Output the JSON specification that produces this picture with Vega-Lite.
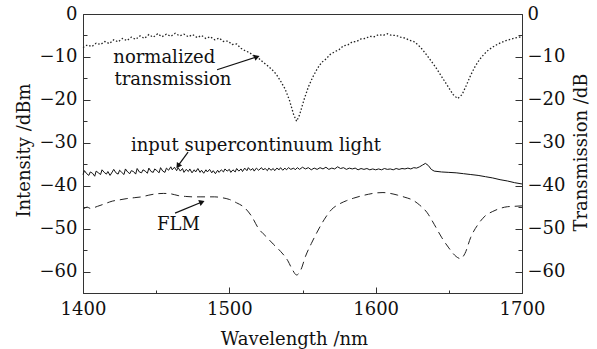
{
  "$schema": "https://vega.github.io/schema/vega-lite/v6.json",
  "width": 439,
  "height": 279,
  "autosize": {"type": "none"},
  "padding": {"left": 83, "top": 14, "right": 75, "bottom": 56},
  "background": "white",
  "config": {
    "view": {"stroke": "#333", "strokeWidth": 1},
    "font": "DejaVu Serif",
    "axis": {
      "grid": false,
      "domainColor": "#333",
      "tickColor": "#333",
      "labelColor": "#111",
      "titleColor": "#111",
      "labelFont": "DejaVu Serif",
      "titleFont": "DejaVu Serif",
      "labelFontSize": 18,
      "titleFontSize": 18,
      "titleFontWeight": "normal",
      "labelOverlap": false,
      "labelFlush": false
    }
  },
  "datasets": {
    "transmission": [
      {"wl":1400,"v":-7.8},{"wl":1403,"v":-7.2},{"wl":1406,"v":-7.6},{"wl":1409,"v":-6.8},{"wl":1412,"v":-7.1},
      {"wl":1415,"v":-6.4},{"wl":1418,"v":-6.9},{"wl":1421,"v":-6.0},{"wl":1424,"v":-6.5},{"wl":1427,"v":-5.7},
      {"wl":1430,"v":-6.2},{"wl":1433,"v":-5.4},{"wl":1436,"v":-5.9},{"wl":1439,"v":-5.1},{"wl":1442,"v":-5.7},
      {"wl":1445,"v":-4.8},{"wl":1448,"v":-5.4},{"wl":1451,"v":-4.6},{"wl":1454,"v":-5.3},{"wl":1457,"v":-4.7},
      {"wl":1460,"v":-5.2},{"wl":1463,"v":-4.5},{"wl":1466,"v":-5.1},{"wl":1469,"v":-4.7},{"wl":1472,"v":-5.3},
      {"wl":1475,"v":-4.8},{"wl":1478,"v":-5.5},{"wl":1481,"v":-5.0},{"wl":1484,"v":-5.7},{"wl":1487,"v":-5.3},
      {"wl":1490,"v":-6.0},{"wl":1493,"v":-5.6},{"wl":1496,"v":-6.4},{"wl":1499,"v":-6.3},{"wl":1502,"v":-7.1},
      {"wl":1505,"v":-7.0},{"wl":1508,"v":-8.0},{"wl":1511,"v":-8.6},{"wl":1514,"v":-9.0},{"wl":1517,"v":-9.9},
      {"wl":1520,"v":-10.3},{"wl":1523,"v":-11.2},{"wl":1526,"v":-12.0},{"wl":1529,"v":-12.9},{"wl":1532,"v":-14.0},
      {"wl":1535,"v":-15.6},{"wl":1538,"v":-17.4},{"wl":1541,"v":-20.0},{"wl":1544,"v":-23.5},{"wl":1546,"v":-25.0},
      {"wl":1548,"v":-23.5},{"wl":1551,"v":-20.0},{"wl":1554,"v":-17.0},{"wl":1557,"v":-14.7},{"wl":1560,"v":-12.8},
      {"wl":1563,"v":-11.3},{"wl":1566,"v":-10.5},{"wl":1569,"v":-9.4},{"wl":1572,"v":-8.8},{"wl":1575,"v":-8.3},
      {"wl":1578,"v":-7.4},{"wl":1581,"v":-7.2},{"wl":1584,"v":-6.5},{"wl":1587,"v":-6.4},{"wl":1590,"v":-5.8},
      {"wl":1593,"v":-5.7},{"wl":1596,"v":-5.2},{"wl":1599,"v":-5.3},{"wl":1602,"v":-4.8},{"wl":1605,"v":-5.0},
      {"wl":1608,"v":-4.6},{"wl":1611,"v":-5.0},{"wl":1614,"v":-5.0},{"wl":1617,"v":-5.4},{"wl":1620,"v":-5.6},
      {"wl":1623,"v":-6.1},{"wl":1626,"v":-6.4},{"wl":1629,"v":-7.2},{"wl":1632,"v":-8.3},{"wl":1635,"v":-9.6},
      {"wl":1638,"v":-11.0},{"wl":1641,"v":-12.4},{"wl":1644,"v":-14.0},{"wl":1647,"v":-15.6},{"wl":1650,"v":-17.2},
      {"wl":1653,"v":-18.8},{"wl":1656,"v":-19.7},{"wl":1659,"v":-18.8},{"wl":1662,"v":-16.6},{"wl":1665,"v":-14.2},
      {"wl":1668,"v":-12.2},{"wl":1671,"v":-10.6},{"wl":1674,"v":-9.4},{"wl":1677,"v":-8.4},{"wl":1680,"v":-7.7},
      {"wl":1683,"v":-7.1},{"wl":1686,"v":-6.6},{"wl":1689,"v":-6.2},{"wl":1692,"v":-5.9},{"wl":1695,"v":-5.6},
      {"wl":1698,"v":-5.4},{"wl":1700,"v":-5.3}
    ],
    "supercontinuum": [
      {"wl":1400,"v":-37.4},{"wl":1401,"v":-36.5},{"wl":1402.5,"v":-37.2},{"wl":1404,"v":-37.6},{"wl":1405,"v":-36.8},
      {"wl":1406.5,"v":-37.1},{"wl":1408,"v":-37.8},{"wl":1409,"v":-36.6},{"wl":1410.5,"v":-37.0},{"wl":1412,"v":-37.4},
      {"wl":1413,"v":-36.3},{"wl":1414.5,"v":-36.9},{"wl":1416,"v":-37.3},{"wl":1417,"v":-36.7},{"wl":1418.5,"v":-37.6},
      {"wl":1420,"v":-36.8},{"wl":1421,"v":-36.2},{"wl":1422.5,"v":-37.0},{"wl":1424,"v":-37.3},{"wl":1425,"v":-36.4},
      {"wl":1426.5,"v":-36.9},{"wl":1428,"v":-37.4},{"wl":1429,"v":-36.1},{"wl":1430.5,"v":-36.8},{"wl":1432,"v":-37.2},
      {"wl":1433,"v":-36.5},{"wl":1434.5,"v":-36.7},{"wl":1436,"v":-37.3},{"wl":1437,"v":-36.0},{"wl":1438.5,"v":-36.8},
      {"wl":1440,"v":-37.0},{"wl":1441,"v":-36.3},{"wl":1442.5,"v":-36.6},{"wl":1444,"v":-37.1},{"wl":1445,"v":-35.9},
      {"wl":1446.5,"v":-36.7},{"wl":1448,"v":-36.9},{"wl":1449,"v":-36.1},{"wl":1450.5,"v":-36.5},{"wl":1452,"v":-37.0},
      {"wl":1453,"v":-35.8},{"wl":1454.5,"v":-36.6},{"wl":1456,"v":-36.9},{"wl":1457,"v":-35.9},{"wl":1458.5,"v":-36.4},
      {"wl":1460,"v":-35.6},{"wl":1461,"v":-36.3},{"wl":1462.5,"v":-35.7},{"wl":1464,"v":-36.5},{"wl":1465,"v":-35.8},
      {"wl":1466.5,"v":-36.6},{"wl":1468,"v":-36.0},{"wl":1469,"v":-36.9},{"wl":1470.5,"v":-36.2},{"wl":1472,"v":-36.7},
      {"wl":1473,"v":-36.1},{"wl":1474.5,"v":-37.0},{"wl":1476,"v":-36.3},{"wl":1477,"v":-36.8},{"wl":1478.5,"v":-36.0},
      {"wl":1480,"v":-36.9},{"wl":1481,"v":-36.4},{"wl":1482.5,"v":-37.1},{"wl":1484,"v":-36.3},{"wl":1485,"v":-36.8},
      {"wl":1486.5,"v":-36.2},{"wl":1488,"v":-37.0},{"wl":1489,"v":-36.5},{"wl":1490.5,"v":-37.2},{"wl":1492,"v":-36.4},
      {"wl":1493,"v":-36.9},{"wl":1494.5,"v":-36.3},{"wl":1496,"v":-36.8},{"wl":1497,"v":-36.1},{"wl":1498.5,"v":-36.6},
      {"wl":1500,"v":-36.2},{"wl":1501,"v":-36.9},{"wl":1502.5,"v":-36.3},{"wl":1504,"v":-36.8},{"wl":1505,"v":-36.0},
      {"wl":1506.5,"v":-36.6},{"wl":1508,"v":-36.1},{"wl":1509,"v":-36.7},{"wl":1510.5,"v":-35.9},{"wl":1512,"v":-36.5},
      {"wl":1513,"v":-35.8},{"wl":1514.5,"v":-36.4},{"wl":1516,"v":-36.0},{"wl":1517,"v":-36.6},{"wl":1518.5,"v":-35.9},
      {"wl":1520,"v":-36.4},{"wl":1522,"v":-35.8},{"wl":1523,"v":-36.3},{"wl":1524.5,"v":-36.0},{"wl":1526,"v":-36.5},
      {"wl":1527,"v":-35.9},{"wl":1528.5,"v":-36.4},{"wl":1530,"v":-36.0},{"wl":1531,"v":-36.5},{"wl":1532.5,"v":-35.9},
      {"wl":1534,"v":-36.3},{"wl":1535,"v":-35.8},{"wl":1536.5,"v":-36.4},{"wl":1538,"v":-35.9},{"wl":1539,"v":-36.3},
      {"wl":1540.5,"v":-35.8},{"wl":1542,"v":-36.2},{"wl":1544,"v":-35.9},{"wl":1545,"v":-36.3},{"wl":1546.5,"v":-35.8},
      {"wl":1548,"v":-36.2},{"wl":1550,"v":-35.7},{"wl":1552,"v":-36.1},{"wl":1554,"v":-35.8},{"wl":1556,"v":-36.3},
      {"wl":1558,"v":-35.9},{"wl":1560,"v":-36.2},{"wl":1562,"v":-35.8},{"wl":1564,"v":-36.1},{"wl":1566,"v":-35.7},
      {"wl":1568,"v":-36.2},{"wl":1570,"v":-35.9},{"wl":1572,"v":-36.1},{"wl":1574,"v":-35.6},{"wl":1576,"v":-36.0},
      {"wl":1578,"v":-35.8},{"wl":1580,"v":-36.2},{"wl":1582,"v":-35.9},{"wl":1584,"v":-36.1},{"wl":1586,"v":-35.9},
      {"wl":1588,"v":-36.3},{"wl":1590,"v":-36.0},{"wl":1592,"v":-36.2},{"wl":1594,"v":-36.0},{"wl":1596,"v":-36.3},
      {"wl":1598,"v":-36.1},{"wl":1600,"v":-36.3},{"wl":1602,"v":-36.1},{"wl":1604,"v":-36.3},{"wl":1606,"v":-36.0},
      {"wl":1608,"v":-36.2},{"wl":1610,"v":-36.1},{"wl":1612,"v":-36.3},{"wl":1614,"v":-36.0},{"wl":1616,"v":-36.2},
      {"wl":1618,"v":-36.0},{"wl":1620,"v":-36.1},{"wl":1622,"v":-35.9},{"wl":1624,"v":-36.1},{"wl":1626,"v":-35.8},
      {"wl":1628,"v":-35.9},{"wl":1630,"v":-35.6},{"wl":1632,"v":-35.2},{"wl":1634,"v":-34.8},{"wl":1636,"v":-35.3},
      {"wl":1638,"v":-36.2},{"wl":1640,"v":-36.6},{"wl":1645,"v":-36.8},{"wl":1650,"v":-36.9},{"wl":1655,"v":-37.0},
      {"wl":1660,"v":-37.2},{"wl":1665,"v":-37.4},{"wl":1670,"v":-37.6},{"wl":1675,"v":-37.9},{"wl":1680,"v":-38.2},
      {"wl":1685,"v":-38.6},{"wl":1690,"v":-38.9},{"wl":1695,"v":-39.3},{"wl":1700,"v":-39.6}
    ],
    "flm": [
      {"wl":1400,"v":-45.5},{"wl":1403,"v":-45.0},{"wl":1405,"v":-45.3},{"wl":1410,"v":-44.8},{"wl":1415,"v":-44.2},
      {"wl":1420,"v":-43.6},{"wl":1425,"v":-43.3},{"wl":1430,"v":-43.0},{"wl":1435,"v":-42.8},{"wl":1440,"v":-42.6},
      {"wl":1445,"v":-42.2},{"wl":1450,"v":-41.9},{"wl":1455,"v":-41.8},{"wl":1460,"v":-41.9},{"wl":1465,"v":-42.3},
      {"wl":1470,"v":-42.5},{"wl":1475,"v":-42.6},{"wl":1480,"v":-42.6},{"wl":1485,"v":-42.6},{"wl":1490,"v":-42.6},
      {"wl":1495,"v":-42.8},{"wl":1500,"v":-43.2},{"wl":1505,"v":-44.0},{"wl":1510,"v":-45.0},{"wl":1515,"v":-47.0},
      {"wl":1520,"v":-50.0},{"wl":1525,"v":-51.8},{"wl":1530,"v":-53.6},{"wl":1535,"v":-55.3},{"wl":1540,"v":-57.5},
      {"wl":1543,"v":-59.5},{"wl":1546,"v":-60.8},{"wl":1549,"v":-59.5},{"wl":1552,"v":-56.5},{"wl":1556,"v":-53.5},
      {"wl":1560,"v":-50.8},{"wl":1565,"v":-47.8},{"wl":1570,"v":-45.5},{"wl":1575,"v":-44.3},{"wl":1580,"v":-43.5},
      {"wl":1585,"v":-42.9},{"wl":1590,"v":-42.4},{"wl":1595,"v":-42.0},{"wl":1600,"v":-41.7},{"wl":1605,"v":-41.6},
      {"wl":1610,"v":-41.8},{"wl":1615,"v":-42.2},{"wl":1620,"v":-42.7},{"wl":1625,"v":-43.3},{"wl":1630,"v":-44.5},
      {"wl":1635,"v":-46.2},{"wl":1640,"v":-49.0},{"wl":1645,"v":-52.0},{"wl":1650,"v":-54.5},{"wl":1655,"v":-56.5},
      {"wl":1658,"v":-57.0},{"wl":1661,"v":-55.8},{"wl":1665,"v":-52.0},{"wl":1670,"v":-49.0},{"wl":1675,"v":-47.0},
      {"wl":1680,"v":-46.0},{"wl":1685,"v":-45.3},{"wl":1690,"v":-44.9},{"wl":1695,"v":-44.8},{"wl":1700,"v":-44.7}
    ],
    "labels": [
      {"text":"normalized","wl":1420.7,"v":-11.4},
      {"text":"transmission","wl":1421.5,"v":-16.6},
      {"text":"input supercontinuum light","wl":1432.8,"v":-31.9},
      {"text":"FLM","wl":1450.6,"v":-50.3}
    ],
    "arrows": [
      {"name":"transmission","wl":1491.6,"v":-13.0,"wl2":1518.9,"v2":-10.0},
      {"name":"supercontinuum","wl":1471.8,"v":-32.2,"wl2":1464.9,"v2":-35.4},
      {"name":"flm","wl":1462.9,"v":-46.4,"wl2":1481.3,"v2":-43.8}
    ]
  },
  "encoding": {
    "x": {
      "field": "wl",
      "type": "quantitative",
      "scale": {"domain": [1400, 1700], "nice": false, "zero": false},
      "axis": {
        "title": "Wavelength /nm",
        "values": [1400, 1450, 1500, 1550, 1600, 1650, 1700],
        "format": "d",
        "labelExpr": "datum.value % 100 === 0 ? datum.label : ''",
        "tickSize": {"condition": {"test": "datum.value % 100 === 0", "value": -6}, "value": -3},
        "labelPadding": 13,
        "titleX": 211,
        "titleY": 51,
        "titleBaseline": "alphabetic"
      }
    }
  },
  "layer": [
    {
      "data": {"name": "transmission"},
      "mark": {"type": "line", "color": "#222", "strokeWidth": 1.3, "strokeDash": [1.5, 2]},
      "encoding": {
        "y": {
          "field": "v", "type": "quantitative",
          "scale": {"domain": [-65, 0], "nice": false, "zero": false},
          "axis": {
            "orient": "right",
            "title": "Transmission /dB",
            "values": [-60, -55, -50, -45, -40, -35, -30, -25, -20, -15, -10, -5, 0],
            "labelExpr": "datum.value % 10 === 0 ? datum.label : ''",
            "tickSize": {"condition": {"test": "datum.value % 10 === 0", "value": -7}, "value": -4},
            "labelPadding": 12,
            "titleAngle": -90,
            "titleX": 64,
            "titleY": 138,
            "titleBaseline": "alphabetic"
          }
        }
      }
    },
    {
      "data": {"name": "supercontinuum"},
      "mark": {"type": "line", "color": "#111", "strokeWidth": 1},
      "encoding": {
        "y": {
          "field": "v", "type": "quantitative",
          "scale": {"domain": [-65, 0], "nice": false, "zero": false},
          "axis": {
            "orient": "left",
            "title": "Intensity /dBm",
            "values": [-60, -55, -50, -45, -40, -35, -30, -25, -20, -15, -10, -5, 0],
            "labelExpr": "datum.value % 10 === 0 ? datum.label : ''",
            "tickSize": {"condition": {"test": "datum.value % 10 === 0", "value": -7}, "value": -4},
            "labelPadding": 13,
            "titleAngle": -90,
            "titleX": -54,
            "titleY": 136,
            "titleBaseline": "alphabetic"
          }
        }
      }
    },
    {
      "data": {"name": "flm"},
      "mark": {"type": "line", "color": "#222", "strokeWidth": 1, "strokeDash": [8, 5], "interpolate": "monotone"},
      "encoding": {
        "y": {"field": "v", "type": "quantitative", "scale": {"domain": [-65, 0], "nice": false, "zero": false}, "axis": null}
      }
    },
    {
      "data": {"name": "labels"},
      "mark": {"type": "text", "font": "DejaVu Serif", "fontSize": 18, "align": "left", "baseline": "alphabetic", "color": "#111"},
      "encoding": {
        "y": {"field": "v", "type": "quantitative", "scale": {"domain": [-65, 0], "nice": false, "zero": false}, "axis": null},
        "text": {"field": "text"}
      }
    },
    {
      "data": {"name": "arrows"},
      "mark": {"type": "rule", "color": "#111", "strokeWidth": 1.2},
      "encoding": {
        "y": {"field": "v", "type": "quantitative", "scale": {"domain": [-65, 0], "nice": false, "zero": false}, "axis": null},
        "x2": {"field": "wl2"},
        "y2": {"field": "v2"}
      }
    },
    {
      "data": {"name": "arrows"},
      "transform": [{"filter": "datum.name === 'transmission'"}],
      "mark": {"type": "point", "shape": "triangle-up", "filled": true, "color": "#111", "size": 40, "angle": 72, "opacity": 1},
      "encoding": {
        "x": {"field": "wl2", "type": "quantitative"},
        "y": {"field": "v2", "type": "quantitative", "scale": {"domain": [-65, 0], "nice": false, "zero": false}, "axis": null}
      }
    },
    {
      "data": {"name": "arrows"},
      "transform": [{"filter": "datum.name === 'supercontinuum'"}],
      "mark": {"type": "point", "shape": "triangle-up", "filled": true, "color": "#111", "size": 40, "angle": 214, "opacity": 1},
      "encoding": {
        "x": {"field": "wl2", "type": "quantitative"},
        "y": {"field": "v2", "type": "quantitative", "scale": {"domain": [-65, 0], "nice": false, "zero": false}, "axis": null}
      }
    },
    {
      "data": {"name": "arrows"},
      "transform": [{"filter": "datum.name === 'flm'"}],
      "mark": {"type": "point", "shape": "triangle-up", "filled": true, "color": "#111", "size": 40, "angle": 68, "opacity": 1},
      "encoding": {
        "x": {"field": "wl2", "type": "quantitative"},
        "y": {"field": "v2", "type": "quantitative", "scale": {"domain": [-65, 0], "nice": false, "zero": false}, "axis": null}
      }
    }
  ],
  "resolve": {"scale": {"y": "independent"}, "axis": {"y": "independent"}}
}
